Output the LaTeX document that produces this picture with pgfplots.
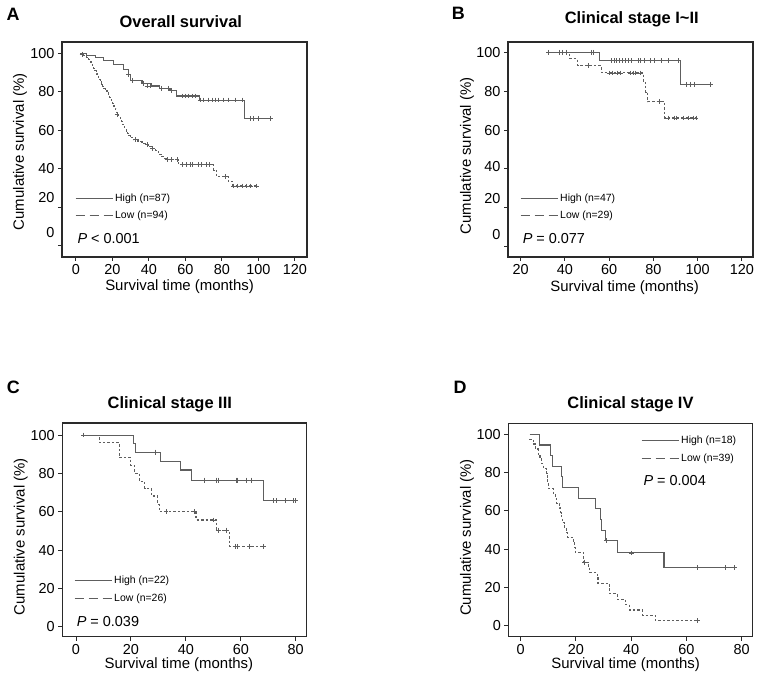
\documentclass[border=0pt]{standalone}
\usepackage{pgfplots}
\pgfplotsset{compat=1.18}
\usepackage{fontspec}
\setmainfont{Liberation Sans}
\definecolor{curve}{HTML}{5e5e5e}
\definecolor{frame}{HTML}{2a2a2a}
\pgfplotsset{
  kmaxis/.style={
    scale only axis, anchor=south west,
    axis line style={draw=frame, line width=1.3bp},
    tick align=outside, major tick length=4bp,
    tick style={draw=frame, line width=1bp},
    xtick pos=bottom, ytick pos=left,
    /pgf/number format/assume math mode=true,
    tick label style={font=\fontsize{14.5}{16}\selectfont},
    title style={font=\bfseries\fontsize{16.5}{19}\selectfont, anchor=base},
    xlabel style={font=\fontsize{15}{17}\selectfont, anchor=base},
    ylabel style={font=\fontsize{15}{17}\selectfont, anchor=center},
    legend image code/.code={\draw[#1] (0bp,0bp) -- (37bp,0bp);},
    legend style={draw=none, fill=none, inner sep=0pt, row sep=4.5bp,
      font=\fontsize{10.5}{12}\selectfont, cells={anchor=west}, anchor=north west},
  },
  hi/.style={const plot, draw=curve, line width=1.1bp, mark=none},
  lo/.style={const plot, draw=curve, line width=1.1bp, dash pattern=on 2.5bp off 2bp, mark=none},
  cens/.style={only marks, mark=+, mark size=2.4bp, draw=curve, mark options={line width=0.8bp, solid}},
  legHi/.style={draw=curve, line width=1bp},
  legLo/.style={draw=curve, line width=1bp, dash pattern=on 9bp off 5bp},
}
\newcommand{\pfont}{\fontsize{14.5}{16}\selectfont}
\begin{document}
\begin{tikzpicture}
\useasboundingbox (0,0) rectangle (758bp,681bp);
% ---------------- A ----------------
\begin{axis}[kmaxis, at={(62bp,424bp)}, width=245bp, height=215bp,
  xmin=-7.67, xmax=126.6, ymin=-5.9, ymax=105.9,
  xtick={0,20,...,120}, ytick={0,20,...,100},
  yticklabels={\raisebox{13.3bp}[\height][\depth]{0},\raisebox{10bp}[\height][\depth]{20},40,60,80,100},
  title={Overall survival}, title style={at={(axis description cs:0.485,1)}, yshift=8.7bp},
  xlabel={Survival time (months)}, xlabel style={at={(axis description cs:0.48,0)}, yshift=-34bp},
  ylabel={Cumulative survival (\%)}, ylabel style={at={(axis description cs:-0.171,0.49)}},
  legend style={at={(axis description cs:0.053,0.304)}},
]
\addlegendimage{legHi}\addlegendentry{High (n=87)}
\addlegendimage{legLo}\addlegendentry{Low (n=94)}
\addplot[hi, forget plot] coordinates {(2.4,100) (6,99.1) (10.6,97.9) (15.2,96.2) (20.6,94.3) (26.1,91.4) (28.9,88.8) (29.8,85.8) (36.2,84.4) (41.6,83.0) (46,81.8) (51.5,80.5) (55.3,77.8) (67.5,75.7) (92.5,66.2) (106.5,66.2)};
\addplot[cens, forget plot] coordinates {(28.9,88.8) (31.1,85.8) (37.1,84.4) (38.9,83) (40.7,83) (46.8,81.8) (50.8,81.8) (52.2,80.5) (58.1,77.8) (59.9,77.8) (61.7,77.8) (63.6,77.8) (65.4,77.8) (68.1,75.7) (70,75.7) (72.7,75.7) (74.5,75.7) (76.3,75.7) (78.2,75.7) (80.9,75.7) (83.7,75.7) (87.3,75.7) (91,75.7) (95.5,66.2) (97.4,66.2) (100.1,66.2) (106.5,66.2)};
\addplot[lo, forget plot] coordinates {(2.4,100) (3.5,98.9) (6,97.7) (7,96.6) (7.8,95.5) (8.5,94.3) (9.2,93.2) (9.7,92) (10.3,90.9) (11,89.7) (11.5,88.6) (12.2,87.5) (12.8,86.3) (13.3,85.2) (14,84) (14.6,82.9) (15.2,81.7) (16.2,80.6) (17,79.5) (17.9,78.3) (18.5,77.2) (19,76) (19.7,74.9) (20.2,73.7) (20.8,72.6) (21.3,71.5) (21.8,70.3) (22.2,69.2) (22.5,68.0) (23.5,66.8) (24.3,65.6) (25,64.4) (25.6,63.2) (26.1,62) (26.8,60.8) (27.5,59.6) (28.3,58.4) (28.9,57.2) (30,56.1) (31.6,55) (34,54) (36.2,53.2) (38,52.4) (39.8,51.5) (41.5,50.5) (43.5,49.4) (45,48.3) (46,47.3) (47.1,46.3) (48.5,45.3) (49.9,44.6) (56.3,42.1) (75.4,39.3) (77,35.8) (83.5,33.4) (86,31) (99,31)};
\addplot[cens, forget plot] coordinates {(3.3,99.5) (22.5,68) (32.5,55) (38.9,52.4) (42,50.5) (49.9,44.6) (52.2,44.6) (55.3,44.6) (58.1,42.1) (60.3,42.1) (62.6,42.1) (63.9,42.1) (67.2,42.1) (69,42.1) (71.2,42.1) (73,42.1) (81.8,35.8) (86.4,31) (88.6,31) (91,31) (93.2,31) (95.5,31) (98.8,31)};
\node[anchor=base west, font=\pfont] at (axis description cs:0.049,0.064) {\textit{P} < 0.001};
\end{axis}
% ---------------- B ----------------
\begin{axis}[kmaxis, at={(508bp,424bp)}, width=245bp, height=215bp,
  xmin=14.27, xmax=125, ymin=-5.3, ymax=105.3,
  xtick={20,40,...,120}, ytick={0,20,...,100},
  yticklabels={\raisebox{11.7bp}[\height][\depth]{0},\raisebox{9bp}[\height][\depth]{20},\raisebox{2.7bp}[\height][\depth]{40},60,80,100},
  title={Clinical stage I\textasciitilde II}, title style={at={(axis description cs:0.505,1)}, yshift=12.7bp},
  xlabel={Survival time (months)}, xlabel style={at={(axis description cs:0.476,0)}, yshift=-34.7bp},
  ylabel={Cumulative survival (\%)}, ylabel style={at={(axis description cs:-0.167,0.47)}},
  legend style={at={(axis description cs:0.049,0.304)}},
]
\addlegendimage{legHi}\addlegendentry{High (n=47)}
\addlegendimage{legLo}\addlegendentry{Low (n=29)}
\addplot[hi, forget plot] coordinates {(32.7,100) (55.7,95.6) (92.4,83.6) (105.8,83.6)};
\addplot[cens, forget plot] coordinates {(32.7,100) (37.7,100) (38.7,100) (40.7,100) (52,100) (53,100) (61.0,95.6) (62.2,95.6) (63.4,95.6) (64.8,95.6) (66.0,95.6) (67.4,95.6) (68.9,95.6) (70.1,95.6) (73.1,95.6) (74.3,95.6) (75.8,95.6) (78.8,95.6) (80.3,95.6) (83.6,95.6) (86.6,95.6) (91.2,95.6) (94.7,83.6) (96.5,83.6) (98.7,83.6) (105.8,83.6)};
\addplot[lo, forget plot] coordinates {(32.7,100) (42.2,96.6) (45.7,93.1) (56.5,89.4) (75.5,84.5) (76.5,79.5) (77.5,74.5) (85.1,66.2) (99.2,66.2)};
\addplot[cens, forget plot] coordinates {(50.5,93.1) (59.9,89.4) (61.4,89.4) (63.7,89.4) (65.2,89.4) (69.7,89.4) (70.9,89.4) (72.0,89.4) (74.0,89.4) (82.5,74.5) (86.6,66.2) (89.6,66.2) (90.4,66.2) (93.6,66.2) (95.8,66.2) (98.1,66.2) (99.2,66.2)};
\node[anchor=base west, font=\pfont] at (axis description cs:0.046,0.065) {\textit{P} = 0.077};
\end{axis}
% ---------------- C ----------------
\begin{axis}[kmaxis, at={(62.3bp,44.3bp)}, width=244.4bp, height=213.7bp,
  xmin=-4.99, xmax=84, ymin=-5.2, ymax=106.3,
  xtick={0,20,...,80}, ytick={0,20,...,100},
  title={Clinical stage III}, title style={at={(axis description cs:0.44,1)}, yshift=9bp},
  xlabel={Survival time (months)}, xlabel style={at={(axis description cs:0.477,0)}, yshift=-31.6bp},
  ylabel={Cumulative survival (\%)}, ylabel style={at={(axis description cs:-0.17,0.468)}},
  legend style={at={(axis description cs:0.048,0.293)}},
]
\addlegendimage{legHi}\addlegendentry{High (n=22)}
\addlegendimage{legLo}\addlegendentry{Low (n=26)}
\addplot[hi, forget plot] coordinates {(2.7,100) (20.9,95.5) (21.8,91.1) (30.8,86.4) (37.9,81.8) (41.9,76.5) (68.2,65.7) (80,65.7)};
\addplot[cens, forget plot] coordinates {(2.7,100) (29,91.1) (46.7,76.5) (51,76.5) (51.8,76.5) (58.3,76.5) (58.9,76.5) (61.9,76.5) (64,76.5) (71.8,65.7) (72.8,65.7) (76.1,65.7) (79.1,65.7) (80,65.7)};
\addplot[lo, forget plot] coordinates {(2.7,100) (8.5,96) (15.7,88.2) (20,84) (21.3,80) (23,76) (25,72) (27.5,68.2) (29.8,64) (30.3,60) (43.7,55.7) (51,50.4) (56,42) (68,42)};
\addplot[cens, forget plot] coordinates {(32.8,60) (43.1,60) (50,55.7) (51.8,50.4) (54.9,50.4) (57.9,42) (58.7,42) (63.3,42) (68.2,42)};
\node[anchor=base west, font=\pfont] at (axis description cs:0.045,0.05) {\textit{P} = 0.039};
\end{axis}
% ---------------- D ----------------
\begin{axis}[kmaxis, at={(508.3bp,44.3bp)}, width=244.4bp, height=213.4bp,
  xmin=-4.48, xmax=84, ymin=-5.6, ymax=105.7,
  xtick={0,20,...,80}, ytick={0,20,...,100},
  title={Clinical stage IV}, title style={at={(axis description cs:0.5,1)}, yshift=9.3bp},
  xlabel={Survival time (months)}, xlabel style={at={(axis description cs:0.48,0)}, yshift=-31.6bp},
  ylabel={Cumulative survival (\%)}, ylabel style={at={(axis description cs:-0.169,0.465)}},
  legend style={at={(axis description cs:0.543,0.95)}},
]
\addlegendimage{legHi}\addlegendentry{High (n=18)}
\addlegendimage{legLo}\addlegendentry{Low (n=39)}
\addplot[hi, forget plot] coordinates {(3.26,100) (6.9,94.4) (10.9,88.9) (11.5,83.3) (14.7,77.8) (15.3,72.2) (21,66.7) (27,61.1) (29,55.6) (29.4,50) (30.8,44.4) (35,38.1) (51.9,30.5) (77.5,30.5)};
\addplot[cens, forget plot] coordinates {(31,44.4) (40.1,38.1) (64,30.5) (74.1,30.5) (77.5,30.5)};
\addplot[lo, forget plot] coordinates {(3.1,97.4) (4.5,94.9) (5.5,92.3) (6.3,89.7) (7,87.2) (7.6,84.6) (8.2,82.1) (9.4,79.5) (9.6,76.9) (9.8,74.4) (10,71.8) (11.8,69.2) (12.5,66.7) (13,64.1) (14.2,61.5) (14.5,59) (14.8,56.4) (15,53.8) (16,51.3) (16.5,48.7) (16.9,46.2) (19,43.6) (19.5,41) (19.7,38.5) (22.7,33.3) (24.7,30.5) (25,27.8) (27.7,25) (28,22.2) (32,19.4) (32.2,16.7) (35,13.9) (37.8,11.1) (39.3,8.3) (44,5.6) (48.7,2.8) (64,2.8)};
\addplot[cens, forget plot] coordinates {(23.2,33.3) (64,2.8)};
\node[anchor=base west, font=\pfont] at (axis description cs:0.539,0.708) {\textit{P} = 0.004};
\end{axis}
% panel letters
\node[anchor=base west, font=\bfseries\fontsize{18}{20}\selectfont] at (3bp,660.3bp) {A};
\node[anchor=base west, font=\bfseries\fontsize{18}{20}\selectfont] at (448.3bp,661bp) {B};
\node[anchor=base west, font=\bfseries\fontsize{18}{20}\selectfont] at (3.3bp,287.7bp) {C};
\node[anchor=base west, font=\bfseries\fontsize{18}{20}\selectfont] at (450bp,287bp) {D};
\end{tikzpicture}
\end{document}
